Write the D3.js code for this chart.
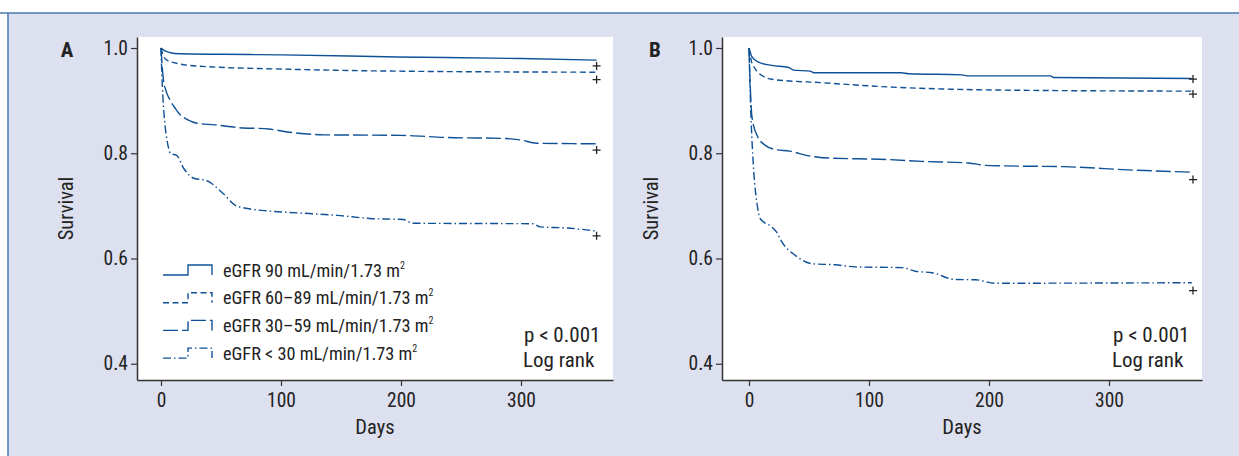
<!DOCTYPE html>
<html><head><meta charset="utf-8">
<script src="https://cdn.jsdelivr.net/npm/d3@7/dist/d3.min.js"></script>
<style>
body{margin:0;background:#fff;}
svg text{font-family:"Liberation Sans Narrow","Roboto Condensed","DejaVu Sans Condensed","Liberation Sans",sans-serif;fill:#222;}
</style></head>
<body><svg id="c" width="1239" height="456"></svg>
<script>
// ---------- DATA ----------
const seriesNames = ["eGFR 90 mL/min/1.73 m", "eGFR 60\u201389 mL/min/1.73 m", "eGFR 30\u201359 mL/min/1.73 m", "eGFR < 30 mL/min/1.73 m"];
const xTicks = [0, 100, 200, 300];
const yTicks = [0.4, 0.6, 0.8, 1.0];

// Panel A  [day, survival]
const a90 = [[0,1.0],[3,0.995],[8,0.991],[15,0.989],[50,0.988],[100,0.987],[197,0.983],[300,0.980],[363,0.977]];
const a60 = [[0,1.0],[2,0.985],[5,0.977],[15,0.970],[35,0.965],[100,0.960],[197,0.956],[363,0.954]];
const a30 = [[0,1.0],[1,0.965],[2,0.94],[4,0.92],[7.5,0.901],[12,0.885],[16,0.873],[22,0.864],[30,0.857],[45,0.854],[63,0.849],[90,0.846],[107,0.840],[136,0.835],[200,0.834],[238,0.830],[288,0.828],[300,0.825],[313,0.819],[363,0.818]];
const aLt30 = [[0,1.0],[0.7,0.95],[1.5,0.91],[2.5,0.875],[3.5,0.85],[5,0.825],[6.5,0.808],[8,0.799],[13,0.796],[19,0.771],[28,0.752],[37,0.749],[52,0.723],[62,0.701],[72,0.695],[91,0.690],[127,0.685],[147,0.682],[174,0.676],[202,0.674],[210,0.667],[310,0.666],[316,0.660],[338,0.658],[363,0.652]];
const aCensor = [[363,0.966],[363,0.940],[363,0.806],[363,0.643]];

// Panel B  [day, survival]
const b90 = [[0,1.0],[2.5,0.983],[8,0.973],[19,0.967],[33,0.963],[37,0.958],[51,0.956],[54,0.953],[127,0.953],[133,0.951],[177,0.949],[183,0.947],[251,0.947],[254,0.944],[369,0.942]];
const b60 = [[0,1.0],[2,0.975],[5,0.961],[12,0.946],[19,0.9405],[61,0.934],[116,0.926],[172,0.9215],[211,0.920],[369,0.918]];
const b30 = [[0,1.0],[1,0.93],[2.5,0.869],[6.7,0.834],[13.6,0.815],[22,0.807],[34,0.804],[50,0.795],[61,0.7915],[116,0.788],[144,0.7846],[183,0.7814],[197,0.777],[211,0.776],[262,0.7745],[320,0.768],[369,0.764]];
const bLt30 = [[0,1.0],[1.5,0.88],[3.9,0.7675],[6.7,0.704],[9.4,0.6755],[19,0.660],[23,0.650],[27.5,0.631],[38.6,0.606],[52.5,0.590],[72,0.588],[88.6,0.584],[127.5,0.5826],[138.6,0.5757],[152.5,0.573],[172,0.560],[188.6,0.5596],[205,0.553],[369,0.554]];
const bCensor = [[370,0.941],[370,0.9125],[370,0.750],[370,0.539]];

// ---------- STYLE / LAYOUT ----------
const lineColor = "#0f5196";
const dashes = [null, "6,3.5", "15,4", "8,3,1.5,3"];
const fontStack = '"Liberation Sans Narrow","Roboto Condensed","DejaVu Sans Condensed",sans-serif';
const svg = d3.select("#c");

svg.append("rect").attr("x",8).attr("y",13).attr("width",1231).attr("height",443).attr("fill","#dde0ef");
svg.append("line").attr("x1",0).attr("x2",1239).attr("y1",13).attr("y2",13).attr("stroke","#4a78b2").attr("stroke-width",1.5);
svg.append("line").attr("x1",8).attr("x2",8).attr("y1",13).attr("y2",456).attr("stroke","#4a78b2").attr("stroke-width",1.5);

function panel(cfg){
  const {left,right,top,bottom,xDom,letter,series,censor,legend} = cfg;
  const x = d3.scaleLinear().domain(xDom).range([left,right]);
  const y = d3.scaleLinear().domain([0.3691,1.0209]).range([bottom,top]);
  svg.append("rect").attr("x",left).attr("y",top).attr("width",right-left).attr("height",bottom-top).attr("fill","#fff");

  const gy = svg.append("g").attr("transform",`translate(${left},0)`)
    .call(d3.axisLeft(y).tickValues(yTicks).tickFormat(d3.format(".1f")).tickSize(6).tickSizeOuter(0).tickPadding(3));
  const gx = svg.append("g").attr("transform",`translate(0,${bottom})`)
    .call(d3.axisBottom(x).tickValues(xTicks).tickSize(6).tickSizeOuter(0).tickPadding(7));
  [gx,gy].forEach(g=>{
    g.select(".domain").attr("stroke","#333").attr("stroke-width",1.5);
    g.selectAll(".tick line").attr("stroke","#333").attr("stroke-width",1.2);
    g.selectAll(".tick text").attr("font-size",19.5).attr("fill","#222").style("font-family",fontStack);
  });

  const line = d3.line().x(d=>x(d[0])).y(d=>y(d[1])).curve(d3.curveMonotoneX);
  series.forEach((s,i)=>{
    svg.append("path").datum(s).attr("d",line).attr("fill","none")
      .attr("stroke",lineColor).attr("stroke-width",1.4)
      .attr("stroke-dasharray",dashes[i]);
  });
  svg.append("g").selectAll("path").data(censor).join("path")
    .attr("d",d=>`M${x(d[0])-4},${y(d[1])}H${x(d[0])+4}M${x(d[0])},${y(d[1])-4}V${y(d[1])+4}`)
    .attr("stroke","#222").attr("stroke-width",1.3);

  svg.append("text").attr("x",letter.x).attr("y",57).attr("font-size",21).attr("font-weight","bold").attr("text-anchor","middle").text(letter.t);
  svg.append("text").attr("transform",`translate(${left-71},${(top+bottom)/2}) rotate(-90)`)
    .attr("text-anchor","middle").attr("font-size",20.5).attr("dy","0.35em").text("Survival");
  svg.append("text").attr("x",(left+right)/2).attr("y",434).attr("text-anchor","middle").attr("font-size",20.5).text("Days");
  svg.append("text").attr("x",right-89).attr("y",342).attr("font-size",21).text("p < 0.001");
  svg.append("text").attr("x",right-90).attr("y",367).attr("font-size",21).text("Log rank");

  if(legend){
    seriesNames.forEach((n,i)=>{
      const yl = 275 + i*27.7, yh = yl-10;
      svg.append("path").attr("d",`M163,${yl}H188V${yh}H212V${yl}`).attr("fill","none")
        .attr("stroke",lineColor).attr("stroke-width",1.4).attr("stroke-dasharray",dashes[i]);
      const t = svg.append("text").attr("x",223).attr("y",yl+1.5).attr("font-size",18.3);
      t.append("tspan").text(n);
      t.append("tspan").attr("dy",-8).attr("font-size",10).text("2");
    });
  }
}

panel({left:137,right:613,top:37,bottom:380,xDom:[-20,376.67],letter:{x:67,t:"A"},
  series:[a90,a60,a30,aLt30],censor:aCensor,legend:true});
panel({left:722,right:1202,top:37,bottom:380,xDom:[-22.5,377.5],letter:{x:655,t:"B"},
  series:[b90,b60,b30,bLt30],censor:bCensor,legend:false});
</script></body></html>
